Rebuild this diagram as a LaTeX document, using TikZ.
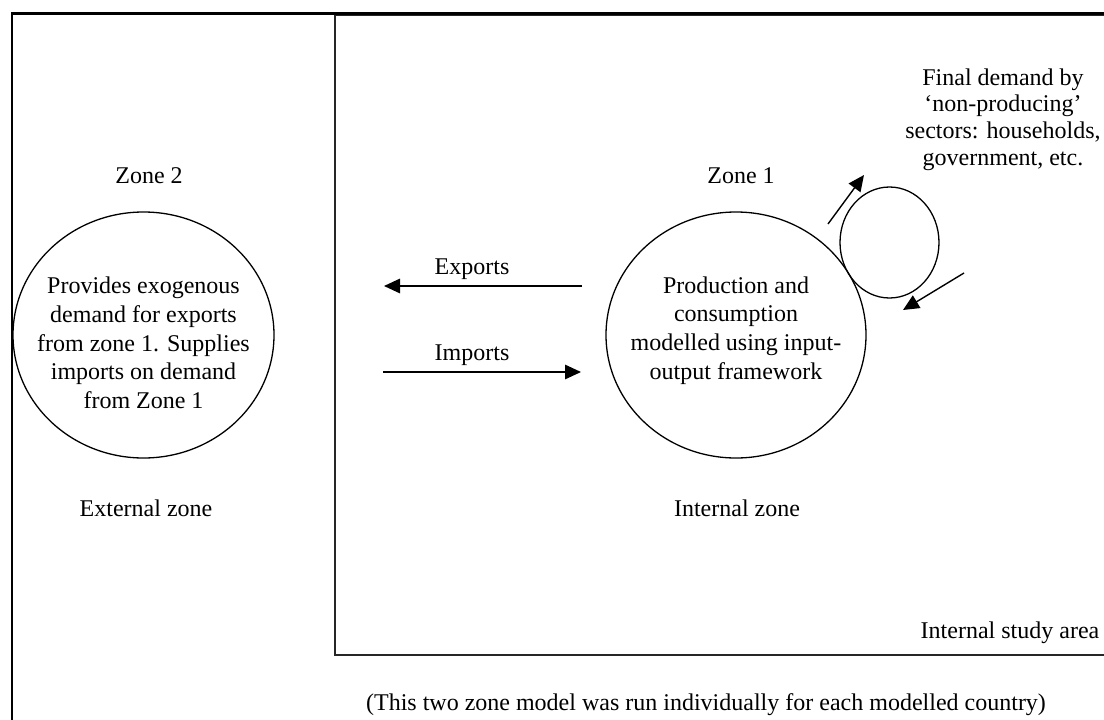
\documentclass[tikz,border=0pt]{standalone}
\usepackage{fontspec}
\setmainfont{Liberation Serif}
\usetikzlibrary{arrows.meta,shapes.geometric}
\begin{document}
\begin{tikzpicture}[x=1pt,y=-1pt,
  txt/.style={font=\fontsize{24}{28.7}\selectfont, inner sep=0pt, align=center},
  zone/.style={draw, ellipse, line width=1.3pt, inner sep=0pt},
  flow/.style={line width=1.4pt, -{Triangle[length=16pt,width=14.5pt]}},
]
\useasboundingbox (0,0) rectangle (1104,720);
\clip (0,0) rectangle (1104,720);
% frames
\draw[line width=2.6pt] (12,13.5) rectangle (1130,740);
\draw[line width=1.4pt, black!85] (335,15.5) rectangle (1130,655);

% zone circles
\node[zone, minimum width=261pt, minimum height=246pt] (z2) at (143.5,335) {};
\node[zone, minimum width=260pt, minimum height=246pt] (z1) at (736,335) {};
\node[zone, minimum width=99pt, minimum height=111pt] (fd) at (889.5,242.5) {};

% texts
\node[txt, anchor=base] (z2lab) at (149,183) {Zone 2};
\node[txt, anchor=base] (z1lab) at (741,183) {Zone 1};
\node[txt] (z2txt) at (143.5,343) {Provides exogenous\\demand for exports\\from zone 1. Supplies\\imports on demand\\from Zone 1};
\node[txt] (z1txt) at (736,330.5) {Production and\\consumption\\modelled using input-\\output framework};
\node[txt, font=\fontsize{24}{26.7}\selectfont] (fdtxt) at (1003,119.5) {Final demand by\\`non-producing'\\sectors: households,\\government, etc.};
\node[txt, anchor=base] (ext) at (146,516) {External zone};
\node[txt, anchor=base] (int) at (737,516) {Internal zone};
\node[txt, anchor=base] (isa) at (1010,638) {Internal study area};
\node[txt, anchor=base] (note) at (706,710) {(This two zone model was run individually for each modelled country)};
\node[txt, anchor=base] (exlab) at (472,274) {Exports};
\node[txt, anchor=base] (imlab) at (472,360) {Imports};

% connectors
\coordinate (exS) at (582,286);
\coordinate (exE) at (384,286);
\coordinate (imS) at (383,372);
\coordinate (imE) at (581,372);
\draw[flow] (exS) -- (exE);
\draw[flow] (imS) -- (imE);
\coordinate (upS) at (828,224);
\coordinate (upE) at (864,175);
\coordinate (dnS) at (964,273);
\coordinate (dnE) at (903,310);
\draw[flow] (upS) -- (upE);
\draw[flow] (dnS) -- (dnE);
\end{tikzpicture}
\end{document}
